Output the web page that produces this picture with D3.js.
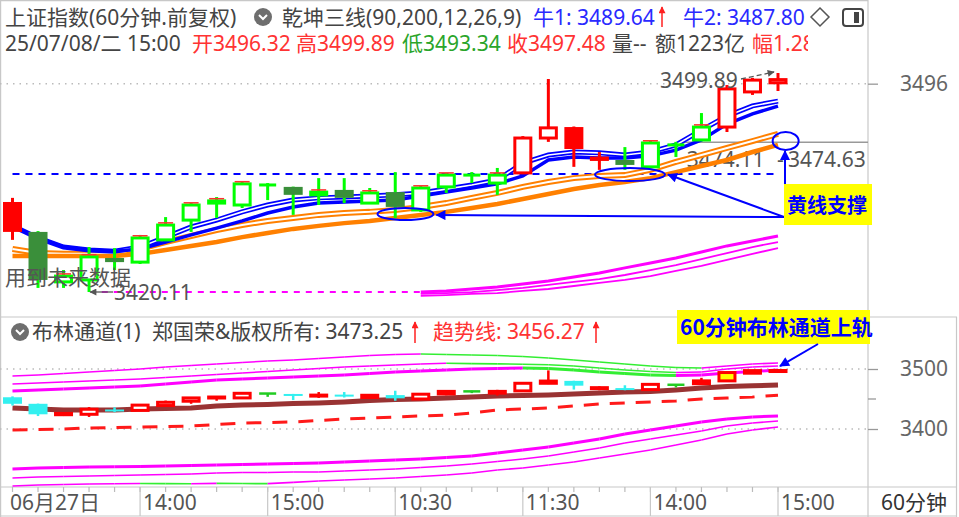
<!DOCTYPE html>
<html><head><meta charset="utf-8">
<script src="https://cdn.jsdelivr.net/npm/d3@7"></script>
<style>
html,body{margin:0;padding:0;background:#fff;overflow:hidden}
svg{display:block;font-family:"Noto Sans","Noto Sans CJK SC",sans-serif}
</style></head><body>
<svg id="c" width="959" height="517"></svg>
<script>
// ---------------- DATA ----------------
const categories=['06/27 11:30','06/27 14:00','06/27 15:00','06/30 10:30','06/30 11:30','06/30 14:00','06/30 15:00','07/01 10:30','07/01 11:30','07/01 14:00','07/01 15:00','07/02 10:30','07/02 11:30','07/02 14:00','07/02 15:00','07/03 10:30','07/03 11:30','07/03 14:00','07/03 15:00','07/04 10:30','07/04 11:30','07/04 14:00','07/04 15:00','07/07 10:30','07/07 11:30','07/07 14:00','07/07 15:00','07/08 10:30','07/08 11:30','07/08 14:00','07/08 15:00'];
const open =[3452.9,3442.0,3423.8,3424.5,3432.5,3431.0,3439.1,3446.3,3452.5,3451.8,3459.1,3458.4,3455.5,3457.3,3452.5,3456.5,3450.0,3458.4,3462.7,3459.8,3463.5,3476.2,3480.2,3468.4,3468.2,3465.7,3473.7,3475.5,3480.2,3493.0,3496.32];
const high =[3454.4,3442.3,3428.1,3436.5,3436.1,3440.9,3447.4,3452.5,3454.7,3460.2,3459.8,3458.5,3461.6,3461.6,3458.0,3463.8,3458.7,3463.5,3463.8,3465.3,3476.9,3497.7,3480.4,3471.1,3472.9,3475.1,3474.8,3485.3,3495.5,3498.1,3499.89];
const low  =[3439.1,3421.6,3421.6,3420.11,3428.1,3430.3,3438.7,3442.0,3447.1,3450.7,3453.6,3448.2,3451.8,3452.5,3452.2,3447.1,3449.3,3456.2,3459.8,3455.5,3463.1,3474.8,3465.7,3464.6,3464.6,3465.3,3469.3,3475.1,3478.4,3491.9,3493.34];
const close=[3442.0,3424.5,3425.9,3432.9,3431.0,3439.8,3444.5,3451.8,3453.3,3459.5,3459.1,3455.5,3456.5,3454.4,3456.2,3451.1,3458.0,3462.7,3462.7,3462.7,3476.2,3479.9,3472.2,3468.9,3466.4,3474.4,3473.7,3480.2,3494.1,3497.3,3497.48];
// 乾坤三线 state: 1 = red (bull), 0 = green
const trendState=[1,0,0,0,0,0,0,0,0,0,0,0,0,0,0,0,0,0,0,0,1,1,1,1,0,0,0,0,1,1,1];
// bars above the Bollinger channel (yellow in lower panel)
const bandBreak=[0,0,0,0,0,0,0,0,0,0,0,0,0,0,0,0,0,0,0,0,0,0,0,0,0,0,0,0,1,1,1];
// blue lines (牛1 / 牛2)
const bull1=[3444.2,3439.8,3436.5,3435.4,3435.0,3436.5,3440.1,3443.8,3446.3,3449.3,3451.8,3453.6,3454.4,3454.7,3455.1,3455.5,3456.2,3457.6,3459.1,3460.9,3467.1,3470.0,3471.1,3470.8,3470.0,3471.1,3473.7,3479.1,3484.2,3487.9,3489.64];
const bull2=[3444.2,3439.8,3436.5,3435.4,3435.0,3435.8,3438.3,3440.9,3443.4,3446.0,3448.9,3451.1,3452.5,3452.9,3453.3,3453.6,3455.1,3456.5,3458.0,3459.5,3462.4,3468.2,3469.3,3468.9,3468.9,3469.7,3471.8,3475.5,3481.3,3485.0,3487.80];
// orange (yellow-line support)
const yellow1=[3435.8,3434.3,3434.0,3434.0,3434.3,3435.8,3438.3,3440.5,3442.7,3444.5,3446.0,3447.1,3448.2,3448.9,3449.3,3450.0,3451.1,3452.5,3454.4,3456.2,3458.4,3460.2,3461.6,3462.4,3462.7,3464.6,3467.5,3470.0,3472.6,3475.1,3477.7];
const yellow2=[3433.2,3433.2,3433.2,3433.2,3433.2,3434.0,3435.4,3436.9,3438.3,3440.1,3441.6,3443.1,3444.2,3445.2,3446.0,3447.1,3448.2,3449.3,3450.7,3452.2,3454.0,3455.8,3457.6,3459.1,3460.2,3461.6,3463.8,3466.0,3468.2,3471.1,3473.7];
// magenta lines (main panel, lower right)
const mag1=[null,null,null,null,null,null,null,null,null,null,null,null,null,null,null,null,3420.1,3420.5,3421.2,3421.9,3423.0,3424.1,3425.6,3427.0,3428.9,3430.7,3432.5,3434.7,3436.9,3438.7,3440.5];
const mag2=[null,null,null,null,null,null,null,null,null,null,null,null,null,null,null,null,3419.4,3419.7,3420.1,3420.8,3421.6,3422.7,3423.8,3424.8,3426.3,3428.1,3429.9,3432.1,3434.3,3436.5,3438.3];
const mag3=[null,null,null,null,null,null,null,null,null,null,null,null,null,null,null,null,3418.7,3419.0,3419.4,3419.7,3420.5,3421.2,3422.3,3423.4,3424.5,3425.9,3427.8,3429.6,3431.8,3434.0,3436.1];
const supportLevel=3463.1, lowLevel=3420.11, priceLine=3474.63, priceLine2=3474.11;
// lower panel: Bollinger channels
const upper1=[3488.3,3490.0,3492.5,3495.0,3497.5,3500.0,3503.3,3505.8,3508.3,3510.8,3513.3,3515.0,3517.5,3520.0,3522.5,3524.2,3525.0,3524.2,3523.3,3522.5,3520.8,3518.3,3515.0,3511.7,3508.3,3505.0,3502.5,3501.7,3505.0,3508.3,3510.0];
const upper2=[3475.0,3476.7,3478.3,3480.0,3481.7,3483.3,3485.8,3488.3,3490.8,3493.3,3495.8,3498.3,3500.8,3503.3,3505.0,3506.7,3508.3,3509.5,3509.0,3508.5,3508.0,3507.0,3505.0,3501.7,3498.3,3495.8,3494.2,3495.0,3500.0,3503.3,3505.0];
const upper3=[3463.3,3465.0,3466.7,3468.3,3470.0,3471.7,3475.0,3478.3,3481.7,3483.3,3485.0,3486.7,3488.3,3490.0,3492.5,3495.0,3496.7,3498.3,3500.0,3500.8,3501.7,3500.8,3498.3,3495.0,3492.5,3490.0,3489.2,3490.0,3493.3,3495.8,3498.3];
const lower1=[3333.3,3335.0,3335.8,3336.7,3337.0,3337.5,3338.3,3339.2,3340.0,3340.8,3341.7,3342.5,3343.3,3345.0,3346.7,3348.3,3350.0,3352.5,3355.0,3360.0,3365.0,3370.0,3376.7,3383.3,3391.7,3398.3,3405.0,3411.7,3416.7,3420.0,3421.7];
const lower2=[3318.3,3320.0,3320.8,3321.7,3322.5,3323.3,3324.2,3325.0,3326.7,3327.5,3327.6,3328.3,3328.4,3330.0,3331.7,3333.3,3335.8,3338.3,3341.7,3345.8,3350.0,3355.0,3361.7,3368.3,3376.7,3383.3,3390.0,3396.7,3405.0,3410.0,3413.3];
const lower3=[3305.0,3306.7,3307.5,3308.3,3308.8,3309.2,3309.0,3308.8,3309.3,3309.1,3308.9,3311.0,3313.3,3315.0,3316.7,3318.3,3320.8,3323.3,3326.7,3331.7,3335.0,3340.0,3345.0,3351.7,3358.3,3365.0,3373.3,3381.7,3391.7,3398.3,3403.3];
const midLine=[3435.0,3433.3,3431.7,3431.7,3431.7,3433.3,3434.2,3435.0,3438.3,3440.0,3440.8,3442.5,3443.3,3445.0,3447.5,3449.2,3450.0,3451.7,3453.3,3455.0,3455.8,3456.7,3458.3,3460.0,3461.7,3462.5,3465.0,3468.3,3470.8,3471.9,3473.25];
const trendLine=[3398.3,3399.2,3400.0,3401.7,3402.5,3403.3,3404.2,3405.0,3407.5,3410.0,3410.8,3411.7,3414.2,3416.7,3418.3,3420.0,3421.7,3423.3,3426.7,3431.7,3433.3,3435.0,3438.3,3441.7,3443.3,3445.0,3446.7,3450.0,3451.7,3453.3,3456.27];
// axis ticks
const tickIdx=[0,5,10,15,20,25,30];
const tickLabels=['06月27日','14:00','15:00','10:30','11:30','14:00','15:00'];
const mainTicks=[3496];
const lowerTicks=[3500,3400];
const lowerMinor=[3450];
const amount='1223亿', range='1.28';

// ---------------- LAYOUT ----------------
const N=open.length, last=N-1;
const svg=d3.select('#c');
const plotR=868;
const x=d3.scaleLinear().domain([0,30]).range([12.5,778]);
const y=d3.scaleLinear().domain([3420.11,3499.89]).range([292,73]);
const y2=d3.scaleLinear().domain([3400,3500]).range([429,369]);
const grey='#c8c8c8', txt='#444';

const defs=svg.append('defs');
defs.append('clipPath').attr('id','cm').append('rect').attr('x',0).attr('y',0).attr('width',plotR).attr('height',316);
defs.append('clipPath').attr('id','cl').append('rect').attr('x',0).attr('y',318).attr('width',plotR).attr('height',169);
defs.append('clipPath').attr('id','ch').append('rect').attr('x',0).attr('y',0).attr('width',808).attr('height',60);
function marker(id,col,w,h){
  defs.append('marker').attr('id',id).attr('viewBox','0 0 10 10').attr('refX',9).attr('refY',5)
   .attr('markerWidth',w).attr('markerHeight',h).attr('markerUnits','userSpaceOnUse').attr('orient','auto')
   .append('path').attr('d','M0,0L10,5L0,10Z').attr('fill',col);
}
marker('ab','#0000ff',13,10);
marker('ag','#555',8,7);
marker('ar','#ff2020',8,7);

// frame
const frame=svg.append('g').attr('stroke',grey).attr('stroke-width',1.2);
frame.append('line').attr('x1',0.6).attr('x2',0.6).attr('y1',0).attr('y2',517);
frame.append('line').attr('x1',plotR).attr('x2',plotR).attr('y1',0).attr('y2',517);
frame.append('line').attr('x1',956.5).attr('x2',956.5).attr('y1',317).attr('y2',517);
frame.append('line').attr('x1',0).attr('x2',957).attr('y1',317).attr('y2',317);
frame.append('line').attr('x1',0).attr('x2',957).attr('y1',487).attr('y2',487);
frame.append('line').attr('x1',0).attr('x2',957).attr('y1',516).attr('y2',516);
frame.append('line').attr('x1',0).attr('x2',plotR).attr('y1',0.6).attr('y2',0.6);

// ---------------- MAIN PANEL ----------------
const main=svg.append('g').attr('clip-path','url(#cm)');
mainTicks.forEach(v=>main.append('line').attr('x1',0).attr('x2',plotR).attr('y1',y(v)).attr('y2',y(v))
  .attr('stroke','#bbb').attr('stroke-width',1.5).attr('stroke-dasharray','1.5,5'));
// price line
main.append('line').attr('x1',x(26.3)).attr('x2',plotR).attr('y1',y(priceLine)).attr('y2',y(priceLine)).attr('stroke','#999').attr('stroke-width',1.5);
main.append('text').attr('x',x(26.5)-2).attr('y',y(priceLine)+25).attr('font-size',21).attr('fill','#555').text(priceLine2.toFixed(2));
// dashed levels
main.append('line').attr('x1',x(3.5)).attr('x2',x(16)).attr('y1',y(lowLevel)).attr('y2',y(lowLevel))
  .attr('stroke','#ff00ff').attr('stroke-width',2).attr('stroke-dasharray','6,6');
main.append('line').attr('x1',x(0)).attr('x2',x(30)).attr('y1',y(supportLevel)).attr('y2',y(supportLevel))
  .attr('stroke','#0000ff').attr('stroke-width',2).attr('stroke-dasharray','7,6');

const lineM=d3.line().defined(d=>d!=null).x((d,i)=>x(i)).y(d=>y(d));
function hollow(g,data,col,outer,inner,line){
  g.append('path').attr('d',line(data)).attr('fill','none').attr('stroke',col).attr('stroke-width',outer);
  g.append('path').attr('d',line(data)).attr('fill','none').attr('stroke','#fff').attr('stroke-width',inner);
}
// magenta
main.append('path').attr('d',lineM(mag3)).attr('fill','none').attr('stroke','#ff00ff').attr('stroke-width',1.8);
main.append('path').attr('d',lineM(mag2)).attr('fill','none').attr('stroke','#ff00ff').attr('stroke-width',1.8);
main.append('path').attr('d',lineM(mag1)).attr('fill','none').attr('stroke','#ff00ff').attr('stroke-width',3);
// orange
hollow(main,yellow1,'#ff8000',6,2,lineM);
main.append('path').attr('d',lineM(yellow2)).attr('fill','none').attr('stroke','#ff8000').attr('stroke-width',4.5);
// blue
hollow(main,bull1,'#0000ff',5,1.6,lineM);
main.append('path').attr('d',lineM(bull2)).attr('fill','none').attr('stroke','#0000ff').attr('stroke-width',3.5);

// candles
const bw=19;
for(let i=0;i<N;i++){
  const o=open[i],c=close[i],h=high[i],l=low[i],cx=x(i);
  const red=trendState[i]===1, up=c>o, doji=c===o;
  const col=red?'#ff0000':'#00ff00';
  main.append('line').attr('x1',cx).attr('x2',cx).attr('y1',y(h)).attr('y2',y(l)).attr('stroke',col).attr('stroke-width',3);
  if(doji){
    main.append('line').attr('x1',cx-bw/2+1).attr('x2',cx+bw/2-1).attr('y1',y(c)).attr('y2',y(c)).attr('stroke',col).attr('stroke-width',3);
  } else if(up){
    const t=y(c), b=y(o);
    main.append('rect').attr('x',cx-bw/2+1.5).attr('y',t).attr('width',bw-3).attr('height',Math.max(b-t,1))
      .attr('fill','#fff').attr('stroke',col).attr('stroke-width',3);
    if(!red) main.append('line').attr('x1',cx-bw/2+2).attr('x2',cx+bw/2-2).attr('y1',t-2.2).attr('y2',t-2.2).attr('stroke','#ff3030').attr('stroke-width',1.5);
  } else {
    const t=y(o), b=y(c);
    main.append('rect').attr('x',cx-bw/2).attr('y',t).attr('width',bw).attr('height',Math.max(b-t,2))
      .attr('fill',red?'#ff0000':'#3a8f3a');
  }
}
// text annotations (main)
main.append('text').attr('x',5).attr('y',285).attr('font-size',21).attr('fill','#555').text('用到未来数据');
const lowI=low.indexOf(d3.min(low));
main.append('line').attr('x1',x(lowI)+24).attr('x2',x(lowI)+1).attr('y1',y(low[lowI])).attr('y2',y(low[lowI]))
  .attr('stroke','#555').attr('stroke-width',1.3).attr('marker-end','url(#ag)');
main.append('text').attr('x',x(lowI)+25).attr('y',y(low[lowI])+8).attr('font-size',21).attr('fill','#555').text(d3.min(low).toFixed(2));
const hiI=high.indexOf(d3.max(high));
main.append('text').attr('x',x(hiI)-118).attr('y',y(high[hiI])+15).attr('font-size',21).attr('fill','#555').text(d3.max(high).toFixed(2));
main.append('line').attr('x1',x(hiI)-37).attr('x2',x(hiI)-4).attr('y1',y(high[hiI])+6).attr('y2',y(high[hiI])-1)
  .attr('stroke','#555').attr('stroke-width',1.3).attr('stroke-dasharray','5,3').attr('marker-end','url(#ag)');
main.append('text').attr('x',x(30)-1).attr('y',y(priceLine)+25).attr('font-size',21).attr('fill','#555').text('-');
main.append('text').attr('x',x(30)+10).attr('y',y(priceLine)+25).attr('font-size',21).attr('fill','#555').text(priceLine.toFixed(2));

// ellipses + arrows
const ann=svg.append('g');
const e1={cx:x(15.4),cy:y(3448.5),rx:28,ry:6};
const e2={cx:x(24.2),cy:y(3462.9),rx:35,ry:6.5};
const e3={cx:x(30.3),cy:y(3475.1),rx:13,ry:9};
[e1,e2,e3].forEach(e=>ann.append('ellipse').attr('cx',e.cx).attr('cy',e.cy).attr('rx',e.rx).attr('ry',e.ry)
  .attr('fill','none').attr('stroke','#0000ff').attr('stroke-width',2));
const ox=784, oy=217;
ann.append('line').attr('x1',ox).attr('y1',oy).attr('x2',e1.cx+e1.rx+3).attr('y2',e1.cy+1).attr('stroke','#0000ff').attr('stroke-width',2).attr('marker-end','url(#ab)');
ann.append('line').attr('x1',ox).attr('y1',oy).attr('x2',e2.cx+e2.rx+3).attr('y2',e2.cy).attr('stroke','#0000ff').attr('stroke-width',2).attr('marker-end','url(#ab)');
ann.append('line').attr('x1',ox+1).attr('y1',oy).attr('x2',ox+1).attr('y2',e3.cy+e3.ry+1).attr('stroke','#0000ff').attr('stroke-width',2).attr('marker-end','url(#ab)');
ann.append('rect').attr('x',784).attr('y',184).attr('width',88).attr('height',41).attr('fill','#ffff00');
ann.append('text').attr('x',787).attr('y',213).attr('font-size',20).attr('font-weight',700)
  .attr('font-family','"Noto Sans CJK SC",sans-serif').attr('fill','#0000ff').text('黄线支撑');

// main right axis
const axM=svg.append('g').attr('transform',`translate(${plotR},0)`).call(d3.axisRight(y).tickValues(mainTicks).tickSize(10).tickPadding(22).tickFormat(d3.format('d')));
axM.select('.domain').remove();
axM.selectAll('line').attr('stroke','#999').attr('stroke-width',1.3);
axM.selectAll('text').attr('font-size',21).attr('fill','#666').attr('font-family','"Noto Sans",sans-serif');

// ---------------- LOWER PANEL ----------------
const low2=svg.append('g').attr('clip-path','url(#cl)');
lowerTicks.forEach(v=>low2.append('line').attr('x1',0).attr('x2',plotR).attr('y1',y2(v)).attr('y2',y2(v))
  .attr('stroke','#bbb').attr('stroke-width',1.5).attr('stroke-dasharray','1.5,5'));
function bandSegs(arr,w){
  for(let i=1;i<arr.length;i++){
    const col=arr[i]<arr[i-1]?'#33ee33':'#ff00ff';
    low2.append('line').attr('x1',x(i-1)).attr('x2',x(i)).attr('y1',y2(arr[i-1])).attr('y2',y2(arr[i]))
      .attr('stroke',col).attr('stroke-width',w).attr('stroke-linecap','butt');
  }
}
bandSegs(upper1,1.6);bandSegs(upper2,1.6);bandSegs(upper3,3);
bandSegs(lower1,3);bandSegs(lower2,1.6);bandSegs(lower3,1.6);
const lineL=d3.line().x((d,i)=>x(i)).y(d=>y2(d));
low2.append('path').attr('d',lineL(trendLine)).attr('fill','none').attr('stroke','#ff1a1a').attr('stroke-width',3).attr('stroke-dasharray','15,11');
low2.append('path').attr('d',lineL(midLine)).attr('fill','none').attr('stroke','#993333').attr('stroke-width',5);
for(let i=0;i<N;i++){
  const o=open[i],c=close[i],h=high[i],l=low[i],cx=x(i);
  const up=c>o, doji=c===o;
  const col=doji?'#22cc22':(up?'#ff0000':'#33f0f0');
  low2.append('line').attr('x1',cx).attr('x2',cx).attr('y1',y2(h)).attr('y2',y2(l)).attr('stroke',col).attr('stroke-width',2.5);
  if(doji){
    low2.append('line').attr('x1',cx-bw/2+1).attr('x2',cx+bw/2-1).attr('y1',y2(c)).attr('y2',y2(c)).attr('stroke',col).attr('stroke-width',2.5);
  } else if(up){
    const t=y2(c), b=y2(o);
    low2.append('rect').attr('x',cx-bw/2+1.5).attr('y',t).attr('width',bw-3).attr('height',Math.max(b-t,1))
      .attr('fill',bandBreak[i]?'#ffff00':'#fff').attr('stroke',col).attr('stroke-width',3);
  } else {
    const t=y2(o), b=y2(c);
    low2.append('rect').attr('x',cx-bw/2).attr('y',t).attr('width',bw).attr('height',Math.max(b-t,2)).attr('fill',col);
  }
}
// lower right axis
const axL=svg.append('g').attr('transform',`translate(${plotR},0)`).call(d3.axisRight(y2).tickValues(lowerTicks).tickSize(10).tickPadding(22).tickFormat(d3.format('d')));
axL.select('.domain').remove();
axL.selectAll('line').attr('stroke','#999').attr('stroke-width',1.3);
axL.selectAll('text').attr('font-size',21).attr('fill','#666').attr('font-family','"Noto Sans",sans-serif');
lowerMinor.forEach(v=>svg.append('line').attr('x1',plotR).attr('x2',plotR+8).attr('y1',y2(v)).attr('y2',y2(v)).attr('stroke','#999').attr('stroke-width',1.3));

// lower annotation
const annL=svg.append('g');
annL.append('rect').attr('x',677).attr('y',310).attr('width',193).attr('height',34).attr('fill','#ffff00');
annL.append('text').attr('x',680).attr('y',335).attr('font-size',21).attr('font-weight',700)
  .attr('font-family','"Noto Sans CJK SC",sans-serif').attr('fill','#0000ff').text('60分钟布林通道上轨');
annL.append('line').attr('x1',818).attr('y1',344).attr('x2',x(30)+2).attr('y2',y2(high[last])-3)
  .attr('stroke','#0000ff').attr('stroke-width',2).attr('marker-end','url(#ab)');

// ---------------- X AXIS ----------------
const xa=svg.append('g');
for(let i=0;i<N;i++) xa.append('line').attr('x1',x(i)).attr('x2',x(i)).attr('y1',487).attr('y2',492).attr('stroke','#bbb').attr('stroke-width',1.2);
tickIdx.forEach((ti,k)=>{
  if(ti>0) xa.append('line').attr('x1',x(ti)).attr('x2',x(ti)).attr('y1',487).attr('y2',516).attr('stroke','#c8c8c8').attr('stroke-width',1.2);
  xa.append('text').attr('x',ti===0?10:x(ti)+3).attr('y',510).attr('font-size',21).attr('fill','#555').text(tickLabels[k]);
});
xa.append('text').attr('x',881).attr('y',510).attr('font-size',21).attr('fill','#333').text('60分钟');

// ---------------- HEADERS ----------------
function icon(cx,cy){
  svg.append('circle').attr('cx',cx).attr('cy',cy).attr('r',9).attr('fill','#6e6e6e');
  svg.append('path').attr('d',`M${cx-4},${cy-2}L${cx},${cy+2}L${cx+4},${cy-2}`).attr('fill','none').attr('stroke','#fff').attr('stroke-width',2);
}
function upArrow(ax,yt,yb){
  svg.append('line').attr('x1',ax).attr('x2',ax).attr('y1',yb).attr('y2',yt).attr('stroke','#ff2020').attr('stroke-width',1.5).attr('marker-end','url(#ar)');
}
function T(xp,yp,s,col,g){ return (g||svg).append('text').attr('x',xp).attr('y',yp).attr('font-size',21).attr('fill',col).text(s); }
const H1=25, H2=51;
T(5,H1,'上证指数(60分钟.前复权)',txt);
icon(263,17);
T(282,H1,'乾坤三线(90,200,12,26,9)',txt);
T(533,H1,'牛1: '+bull1[last].toFixed(2),'#2a2aff');
upArrow(662,7,27);
T(683,H1,'牛2: '+bull2[last].toFixed(2),'#2a2aff');
svg.append('path').attr('d','M820,8L829,17L820,26L811,17Z').attr('fill','none').attr('stroke','#555').attr('stroke-width',1.5);
svg.append('rect').attr('x',843).attr('y',9).attr('width',20).attr('height',17).attr('rx',3).attr('fill','none').attr('stroke','#444').attr('stroke-width',2);
svg.append('rect').attr('x',854).attr('y',12).attr('width',5).attr('height',11).attr('fill','#444');
const hg=svg.append('g').attr('clip-path','url(#ch)');
T(5,H2,'25/07/08/二 15:00',txt,hg);
T(192,H2,'开'+open[last].toFixed(2),'#ff3333',hg);
T(296,H2,'高'+high[last].toFixed(2),'#ff3333',hg);
T(402,H2,'低'+low[last].toFixed(2),'#2aa52a',hg);
T(507,H2,'收'+close[last].toFixed(2),'#ff3333',hg);
T(612,H2,'量--',txt,hg);
T(655,H2,'额'+amount,txt,hg);
T(752,H2,'幅'+range,'#ff3333',hg);
// lower header
icon(20,332);
T(32,339,'布林通道(1)',txt);
T(152,339,'郑国荣&版权所有: '+midLine[last].toFixed(2),txt);
upArrow(415,322,343);
T(433,339,'趋势线: '+trendLine[last].toFixed(2),'#ff3333');
upArrow(596,322,343);
</script></body></html>
